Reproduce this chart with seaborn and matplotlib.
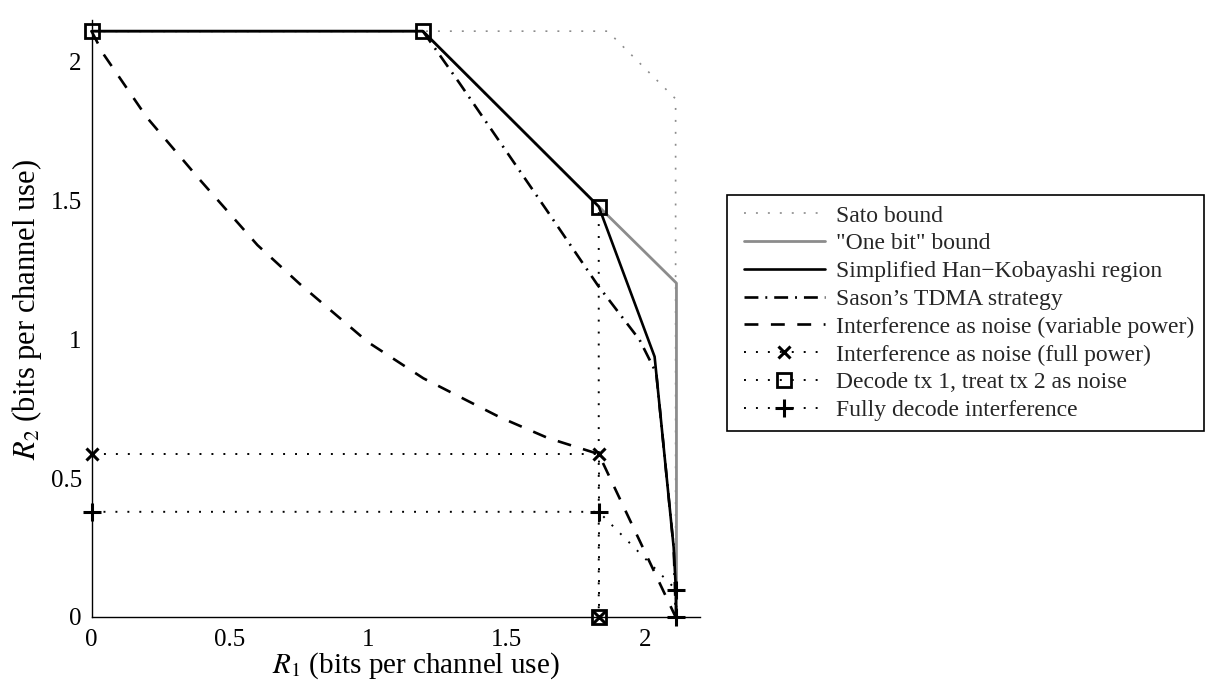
import numpy as np
import pandas as pd
import matplotlib
matplotlib.use("Agg")
import matplotlib.pyplot as plt
from matplotlib.lines import Line2D
from matplotlib.legend_handler import HandlerLine2D
import seaborn as sns

# Rate-region curves (R1, R2) in bits per channel use
sato_r1 = [0.0, 1.866, 2.112, 2.112]
sato_r2 = [2.111, 2.111, 1.867, 0.0]

onebit_r1 = [0.0, 1.198, 1.834, 2.115, 2.115]
onebit_r2 = [2.111, 2.111, 1.479, 1.203, 0.0]

hk_r1 = [0.0, 1.198, 1.834, 2.036, 2.060, 2.085, 2.105, 2.113, 2.113]
hk_r2 = [2.111, 2.111, 1.479, 0.938, 0.700, 0.450, 0.250, 0.097, 0.0]

tdma_r1 = [1.198, 1.331, 1.645, 1.830, 1.982, 2.042, 2.060, 2.085, 2.105, 2.113]
tdma_r2 = [2.111, 1.923, 1.467, 1.196, 0.998, 0.879, 0.700, 0.450, 0.250, 0.0]

ian_var_r1 = [0.0, 0.042, 0.200, 0.392, 0.600, 0.753, 1.000, 1.200, 1.476,
              1.650, 1.834, 2.112]
ian_var_r2 = [2.111, 2.030, 1.800, 1.575, 1.340, 1.200, 0.990, 0.860, 0.720,
              0.645, 0.587, 0.0]

ian_full_r1 = [0.0, 1.834, 1.834]
ian_full_r2 = [0.587, 0.587, 0.0]

dec1_r1 = [0.0, 1.198, 1.834, 1.834]
dec1_r2 = [2.111, 2.111, 1.479, 0.0]

full_r1 = [0.0, 1.834, 2.115, 2.115]
full_r2 = [0.379, 0.379, 0.097, 0.0]

x_ticks = [0, 0.5, 1, 1.5, 2]
y_ticks = [0, 0.5, 1, 1.5, 2]
x_tick_labels = ["0", "0.5", "1", "1.5", "2"]
y_tick_labels = ["0", "0.5", "1", "1.5", "2"]

labels = [
    "Sato bound",
    "\"One bit\" bound",
    "Simplified Han\u2212Kobayashi region",
    "Sason\u2019s TDMA strategy",
    "Interference as noise (variable power)",
    "Interference as noise (full power)",
    "Decode tx 1, treat tx 2 as noise",
    "Fully decode interference",
]

sns.set_theme(style="white")
plt.rcParams["font.family"] = ["Liberation Serif", "DejaVu Serif"]
plt.rcParams["mathtext.fontset"] = "stix"
plt.rcParams["lines.scale_dashes"] = False

fig = plt.figure(figsize=(12.11, 6.85), dpi=100)
ax = fig.add_axes([0.0756, 0.0993, 0.5024, 0.8710])

GRAY = "#8c8c8c"
DOT = (0, (1.4, 7.2))
DASH = (0, (10, 9))
DASHDOT = (0, (10, 5, 1.4, 5))

series = [
    (sato_r1, sato_r2, dict(color=GRAY, lw=1.2, ls=DOT)),
    (onebit_r1, onebit_r2, dict(color=GRAY, lw=2.0, ls="-")),
    (hk_r1, hk_r2, dict(color="black", lw=1.9, ls="-")),
    (tdma_r1, tdma_r2, dict(color="black", lw=1.9, ls=DASHDOT)),
    (ian_var_r1, ian_var_r2, dict(color="black", lw=1.9, ls=DASH)),
    (ian_full_r1, ian_full_r2, dict(color="black", lw=1.4, ls=DOT,
                                    marker="x", ms=9, mew=2.2, mec="black")),
    (dec1_r1, dec1_r2, dict(color="black", lw=1.4, ls=DOT, marker="s", ms=10,
                            mew=2.0, mfc="none", mec="black")),
    (full_r1, full_r2, dict(color="black", lw=1.4, ls=DOT,
                            marker="+", ms=13, mew=2.2, mec="black")),
]

handles = []
for (r1, r2, kw), lab in zip(series, labels):
    df = pd.DataFrame({"R1": r1, "R2": r2})
    sns.lineplot(data=df, x="R1", y="R2", sort=False, estimator=None,
                 ax=ax, clip_on=False, zorder=3, **kw)
    handles.append(Line2D([], [], **kw))

ax.set_xlim(0, 2.2)
ax.set_ylim(0, 2.15)
ax.set_xticks(x_ticks)
ax.set_xticklabels(x_tick_labels)
ax.set_yticks(y_ticks)
ax.set_yticklabels(y_tick_labels)
ax.tick_params(direction="in", length=6, width=1.0, labelsize=18, colors="black")
ax.tick_params(axis="x", pad=9)
ax.tick_params(axis="y", pad=7)
for side in ["top", "right"]:
    ax.spines[side].set_visible(False)
for side in ["left", "bottom"]:
    ax.spines[side].set_color("black")
    ax.spines[side].set_linewidth(1.0)

ax.set_xlabel("$R_1$ (bits per channel use)", fontsize=21, color="black")
ax.set_ylabel("$R_2$ (bits per channel use)", fontsize=22, color="black")
ax.xaxis.set_label_coords(0.533, -0.056)
ax.yaxis.set_label_coords(-0.078, 0.515)

leg = ax.legend(handles=handles, labels=labels, loc="upper left",
                bbox_to_anchor=(1.0437, 0.707), fontsize=17, frameon=True,
                fancybox=False, edgecolor="black", framealpha=1,
                handlelength=3.75, handletextpad=0.45, labelspacing=0.265,
                borderpad=0.42, borderaxespad=0,
                handler_map={Line2D: HandlerLine2D(numpoints=1, xpad=0.3)})
leg.get_frame().set_linewidth(1.2)

fig.savefig("out.png", dpi=100)
